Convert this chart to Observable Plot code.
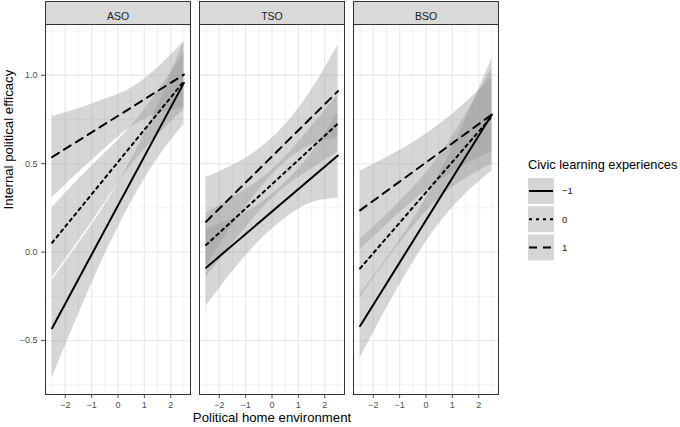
<!DOCTYPE html>
<html><head><meta charset="utf-8">
<script src="https://cdn.jsdelivr.net/npm/d3@7"></script>
<script src="https://cdn.jsdelivr.net/npm/@observablehq/plot@0.6"></script>
<style>
body{margin:0;background:#fff;}
#wrap{position:relative;width:680px;height:427px;font-family:"Liberation Sans",Arial,Helvetica,sans-serif;}
</style></head><body><div id="wrap"></div>
<script>
// Panels (school types) and moderator levels
const panels = ["ASO", "TSO", "BSO"];
const levels = ["−1", "0", "1"];
// Axis ticks / gridlines
const xTicks = [-2, -1, 0, 1, 2];
const xMinor = [-2.5, -1.5, -0.5, 0.5, 1.5, 2.5];
const yTicks = [-0.5, 0, 0.5, 1];
const yMinor = [-0.75, -0.25, 0.25, 0.75, 1.25];
// Fitted lines: value at x = -2.5 and x = 2.5, for levels -1, 0, 1
const lineX = [-2.5, 2.5];
const lineASO = [[-0.430, 0.957], [0.053, 0.966], [0.537, 1.004]];
const lineTSO = [[-0.088, 0.546], [0.040, 0.727], [0.172, 0.910]];
const lineBSO = [[-0.418, 0.778], [-0.092, 0.768], [0.236, 0.778]];
// Confidence bands read at these x positions
const bandX = [-2.5, -1.5, -0.5, 0.5, 1.5, 2.5];
const lowerASO = [[-0.710, -0.353, -0.015, 0.282, 0.530, 0.722],
                  [-0.145, 0.061, 0.278, 0.491, 0.658, 0.806],
                  [0.307, 0.450, 0.584, 0.707, 0.781, 0.819]];
const upperASO = [[-0.160, 0.047, 0.265, 0.522, 0.830, 1.192],
                  [0.251, 0.411, 0.558, 0.711, 0.908, 1.126],
                  [0.767, 0.810, 0.864, 0.927, 1.041, 1.189]];
const lowerTSO = [[-0.305, -0.111, 0.060, 0.192, 0.279, 0.306],
                  [-0.140, 0.047, 0.225, 0.367, 0.470, 0.567],
                  [-0.078, 0.150, 0.352, 0.510, 0.607, 0.650]];
const upperTSO = [[0.129, 0.189, 0.270, 0.392, 0.559, 0.786],
                  [0.220, 0.307, 0.405, 0.537, 0.710, 0.887],
                  [0.422, 0.490, 0.582, 0.720, 0.917, 1.170]];
const lowerBSO = [[-0.598, -0.319, -0.060, 0.160, 0.329, 0.458],
                  [-0.256, -0.050, 0.142, 0.304, 0.416, 0.498],
                  [0.014, 0.154, 0.288, 0.401, 0.495, 0.568]];
const upperBSO = [[-0.238, -0.039, 0.180, 0.440, 0.749, 1.098],
                  [0.072, 0.210, 0.362, 0.544, 0.776, 1.038],
                  [0.458, 0.534, 0.618, 0.721, 0.845, 0.988]];

const lineData = {ASO: lineASO, TSO: lineTSO, BSO: lineBSO};
const lowerData = {ASO: lowerASO, TSO: lowerTSO, BSO: lowerBSO};
const upperData = {ASO: upperASO, TSO: upperTSO, BSO: upperBSO};
const dashes = [undefined, "3 4", "8 6"];

const bands = [];
const lines = [];
panels.forEach(p => levels.forEach((l, j) => {
  bandX.forEach((x, k) => bands.push({panel: p, level: l, x, lo: lowerData[p][j][k], hi: upperData[p][j][k]}));
  lineX.forEach((x, k) => lines.push({panel: p, level: l, x, y: lineData[p][j][k]}));
}));

const fmtX = d => (d < 0 ? "−" : "") + Math.abs(d);
const fmtY = d => (d < 0 ? "−" : "") + Math.abs(d).toFixed(1);
const font = '"Liberation Sans", Arial, Helvetica, sans-serif';

const chart = Plot.plot({
  width: 680, height: 427,
  marginTop: 24, marginBottom: 33, marginLeft: 45, marginRight: 181,
  style: {fontFamily: font, fontSize: "9px", color: "#4d4d4d", background: "white"},
  fx: {domain: panels, axis: null, label: null, paddingInner: 0.057, paddingOuter: 0},
  x: {domain: [-2.75, 2.75], ticks: xTicks, tickSize: 4, tickPadding: 3, tickFormat: fmtX, label: null},
  y: {domain: [-0.805, 1.287], ticks: yTicks, tickSize: 4, tickPadding: 4, tickFormat: fmtY, label: null},
  marks: [
    Plot.ruleX(xMinor, {stroke: "#ebebeb", strokeWidth: 0.7}),
    Plot.ruleX(xTicks, {stroke: "#ebebeb", strokeWidth: 1.3}),
    Plot.ruleY(yMinor, {stroke: "#ebebeb", strokeWidth: 0.7}),
    Plot.ruleY(yTicks, {stroke: "#ebebeb", strokeWidth: 1.3}),
    Plot.areaY(bands, {fx: "panel", x: "x", y1: "lo", y2: "hi", z: "level", fill: "#999999", fillOpacity: 0.4, curve: "natural"}),
    ...levels.map((l, j) => Plot.line(lines.filter(d => d.level === l), {
      fx: "panel", x: "x", y: "y", stroke: "black", strokeWidth: 2,
      ...(dashes[j] ? {strokeDasharray: dashes[j]} : {})
    })),
    Plot.frame({stroke: "#333333", strokeWidth: 1}),
    Plot.frame({fill: "#d9d9d9", stroke: "#333333", strokeWidth: 1, insetTop: -23, insetBottom: 370, clip: false}),
    Plot.text(panels, {fx: d => d, text: d => d, frameAnchor: "top", dy: -11.5, fill: "#1a1a1a", fontSize: 10.5}),
    Plot.text(["Political home environment"], {fx: () => "TSO", text: d => d, frameAnchor: "bottom", dy: 27, fill: "black", fontSize: 13.2}),
    Plot.text(["Internal political efficacy"], {fx: () => "ASO", text: d => d, frameAnchor: "left", dx: -37, rotate: -90, fill: "black", fontSize: 13.2})
  ]
});
const wrap = document.getElementById("wrap");
wrap.appendChild(chart);

// Legend
const leg = d3.create("svg").attr("width", 153).attr("height", 115)
  .style("position", "absolute").style("left", "527px").style("top", "150px")
  .style("font-family", font);
leg.append("text").attr("x", 1).attr("y", 19).attr("font-size", 12.8).attr("fill", "black").text("Civic learning experiences");
levels.forEach((l, j) => {
  const y0 = 28 + j * 28.2;
  leg.append("rect").attr("x", 1).attr("y", y0).attr("width", 26).attr("height", 26).attr("fill", "#999999").attr("fill-opacity", 0.4);
  const ln = leg.append("line").attr("x1", 2).attr("x2", 26).attr("y1", y0 + 13).attr("y2", y0 + 13)
    .attr("stroke", "black").attr("stroke-width", 2);
  if (dashes[j]) ln.attr("stroke-dasharray", dashes[j]);
  leg.append("text").attr("x", 35).attr("y", y0 + 13).attr("dy", "0.35em").attr("font-size", 9.5).attr("fill", "#1a1a1a").text(l);
});
wrap.appendChild(leg.node());
</script></body></html>
